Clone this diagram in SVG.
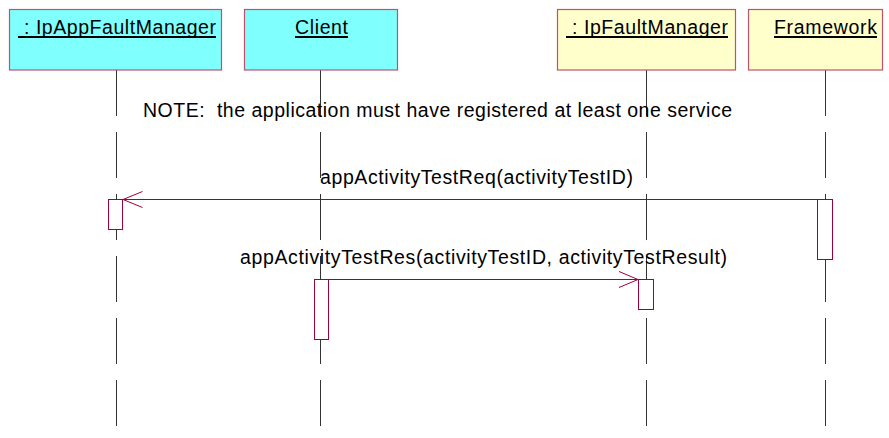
<svg xmlns="http://www.w3.org/2000/svg" width="889" height="438" viewBox="0 0 889 438">
<style>
  text { font-family: "Liberation Sans", Arial, sans-serif; font-size: 19.5px; fill: #000; }
  .box { stroke: #c0506e; stroke-width: 1.2; }
  .cyan { fill: #80ffff; }
  .yellow { fill: #ffffcc; }
  .ul { stroke: #000; stroke-width: 2; }
  .life { stroke: #333; stroke-width: 1; stroke-dasharray: 46 16; fill: none; }
  .act { fill: #fff; stroke: #a0003a; stroke-width: 1; }
  .msg { stroke: #a0003a; stroke-width: 1; fill: none; }
</style>
<rect width="889" height="438" fill="#fff"/>
<g id="lifelines">
  <line class="life" x1="116.5" y1="70" x2="116.5" y2="430"/>
  <line class="life" x1="320.5" y1="70" x2="320.5" y2="430"/>
  <line class="life" x1="646.5" y1="70" x2="646.5" y2="430"/>
  <line class="life" x1="825.5" y1="70" x2="825.5" y2="430"/>
</g>
<g id="node-ipappfaultmanager">
  <rect class="box cyan" x="9.5" y="9.5" width="212" height="60.5"/>
  <text x="18" y="34" xml:space="preserve" textLength="198" lengthAdjust="spacing"> : IpAppFaultManager</text>
  <line class="ul" x1="18" y1="37" x2="216" y2="37"/>
</g>
<g id="node-client">
  <rect class="box cyan" x="244.5" y="9.5" width="153" height="60.5"/>
  <text x="295" y="34" textLength="53" lengthAdjust="spacing">Client</text>
  <line class="ul" x1="295" y1="37" x2="348" y2="37"/>
</g>
<g id="node-ipfaultmanager">
  <rect class="box yellow" x="557.5" y="9.5" width="178" height="60.5"/>
  <text x="566" y="34" xml:space="preserve" textLength="162" lengthAdjust="spacing"> : IpFaultManager</text>
  <line class="ul" x1="566" y1="37" x2="728" y2="37"/>
</g>
<g id="node-framework">
  <rect class="box yellow" x="748.5" y="9.5" width="134" height="60.5"/>
  <text x="774" y="34" textLength="103" lengthAdjust="spacing">Framework</text>
  <line class="ul" x1="774" y1="37" x2="877" y2="37"/>
</g>
<g id="note">
  <text x="143" y="117" xml:space="preserve" textLength="589" lengthAdjust="spacing">NOTE:  the application must have registered at least one service</text>
</g>
<g id="activations">
  <rect class="act" x="108.5" y="199.5" width="14" height="30"/>
  <rect class="act" x="817.5" y="199.5" width="15" height="60"/>
  <rect class="act" x="314.5" y="279.5" width="14" height="60"/>
  <rect class="act" x="638.5" y="279.5" width="15" height="30"/>
</g>
<g id="connectors">
  <line class="msg" x1="817.5" y1="199.5" x2="123" y2="199.5"/>
  <polyline class="msg" points="142.5,191.5 123,199.5 142.5,207.5"/>
  <text x="320" y="184" textLength="313" lengthAdjust="spacing">appActivityTestReq(activityTestID)</text>
  <line class="msg" x1="328.5" y1="279.5" x2="638" y2="279.5"/>
  <polyline class="msg" points="619,271.5 638,279.5 619,287.5"/>
  <text x="240" y="264" textLength="487" lengthAdjust="spacing">appActivityTestRes(activityTestID, activityTestResult)</text>
</g>
</svg>
